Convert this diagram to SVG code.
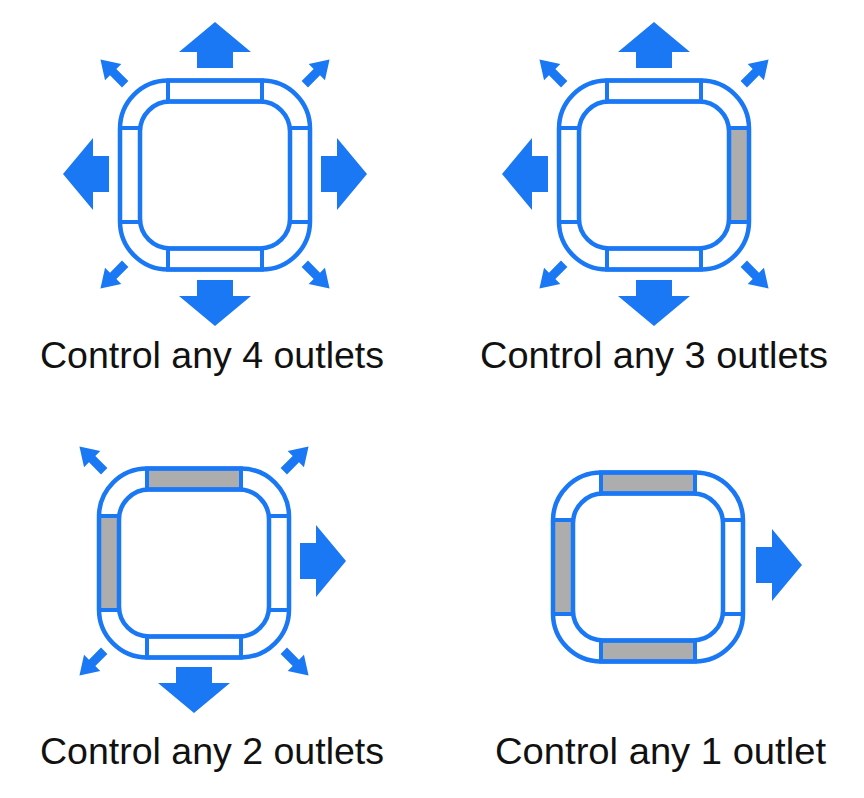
<svg xmlns="http://www.w3.org/2000/svg" xmlns:xlink="http://www.w3.org/1999/xlink" width="864" height="798" viewBox="0 0 864 798">
<style>
.ring{fill:none;stroke:#1a78f5;stroke-width:4.5}
.slot{fill:#ffffff;stroke:#1a78f5;stroke-width:4}
.off{fill:#adadad;stroke:#1a78f5;stroke-width:4}
.arr{fill:#1a78f5}
.lbl{font-family:"Liberation Sans",Arial,sans-serif;font-size:36px;fill:#111111}
</style>
<defs>
<polygon id="big" points="106,-18 122,-18 122,-36 152,0 122,36 122,18 106,18"/>
<polygon id="small" points="127,-4.5 144,-4.5 144,-11.5 162,0 144,11.5 144,4.5 127,4.5"/>
</defs>
<rect width="864" height="798" fill="#ffffff"/>

<g id="unit4outlets">
<g transform="translate(215,175)">
<rect class="slot" x="-47" y="-94.5" width="94" height="21"/>
<rect class="slot" x="-47" y="73.5" width="94" height="21"/>
<rect class="slot" x="-95" y="-47" width="20" height="94"/>
<rect class="slot" x="75" y="-47" width="20" height="94"/>
<rect class="ring" x="-95" y="-94.5" width="190" height="189" rx="48"/>
<rect class="ring" x="-75" y="-73.5" width="150" height="147" rx="30"/>
</g>
<g class="arr" transform="translate(215,174)">
<use xlink:href="#big" transform="rotate(-90)"/>
<use xlink:href="#big" transform="rotate(0)"/>
<use xlink:href="#big" transform="rotate(90)"/>
<use xlink:href="#big" transform="rotate(180)"/>
<use xlink:href="#small" transform="rotate(-45)"/>
<use xlink:href="#small" transform="rotate(-135)"/>
<use xlink:href="#small" transform="rotate(45)"/>
<use xlink:href="#small" transform="rotate(135)"/>
</g>
<text class="lbl" x="40" y="368" textLength="344" lengthAdjust="spacingAndGlyphs">Control any 4 outlets</text>
</g>

<g id="unit3outlets">
<g transform="translate(654,175)">
<rect class="slot" x="-47" y="-94.5" width="94" height="21"/>
<rect class="slot" x="-47" y="73.5" width="94" height="21"/>
<rect class="slot" x="-95" y="-47" width="20" height="94"/>
<rect class="off" x="75" y="-47" width="20" height="94"/>
<rect class="ring" x="-95" y="-94.5" width="190" height="189" rx="48"/>
<rect class="ring" x="-75" y="-73.5" width="150" height="147" rx="30"/>
</g>
<g class="arr" transform="translate(654,174)">
<use xlink:href="#big" transform="rotate(-90)"/>
<use xlink:href="#big" transform="rotate(90)"/>
<use xlink:href="#big" transform="rotate(180)"/>
<use xlink:href="#small" transform="rotate(-45)"/>
<use xlink:href="#small" transform="rotate(-135)"/>
<use xlink:href="#small" transform="rotate(45)"/>
<use xlink:href="#small" transform="rotate(135)"/>
</g>
<text class="lbl" x="480" y="368" textLength="348" lengthAdjust="spacingAndGlyphs">Control any 3 outlets</text>
</g>

<g id="unit2outlets">
<g transform="translate(194,563)">
<rect class="off" x="-47" y="-94.5" width="94" height="21"/>
<rect class="slot" x="-47" y="73.5" width="94" height="21"/>
<rect class="off" x="-95" y="-47" width="20" height="94"/>
<rect class="slot" x="75" y="-47" width="20" height="94"/>
<rect class="ring" x="-95" y="-94.5" width="190" height="189" rx="48"/>
<rect class="ring" x="-75" y="-73.5" width="150" height="147" rx="30"/>
</g>
<g class="arr" transform="translate(194,561)">
<use xlink:href="#big" transform="rotate(0)"/>
<use xlink:href="#big" transform="rotate(90)"/>
<use xlink:href="#small" transform="rotate(-45)"/>
<use xlink:href="#small" transform="rotate(-135)"/>
<use xlink:href="#small" transform="rotate(45)"/>
<use xlink:href="#small" transform="rotate(135)"/>
</g>
<text class="lbl" x="40" y="764" textLength="344" lengthAdjust="spacingAndGlyphs">Control any 2 outlets</text>
</g>

<g id="unit1outlet">
<g transform="translate(648,567)">
<rect class="off" x="-47" y="-94.5" width="94" height="21"/>
<rect class="off" x="-47" y="73.5" width="94" height="21"/>
<rect class="off" x="-95" y="-47" width="20" height="94"/>
<rect class="slot" x="75" y="-47" width="20" height="94"/>
<rect class="ring" x="-95" y="-94.5" width="190" height="189" rx="48"/>
<rect class="ring" x="-75" y="-73.5" width="150" height="147" rx="30"/>
</g>
<g class="arr" transform="translate(650,565)">
<use xlink:href="#big" transform="rotate(0)"/>
</g>
<text class="lbl" x="495" y="764" textLength="331" lengthAdjust="spacingAndGlyphs">Control any 1 outlet</text>
</g>
</svg>
